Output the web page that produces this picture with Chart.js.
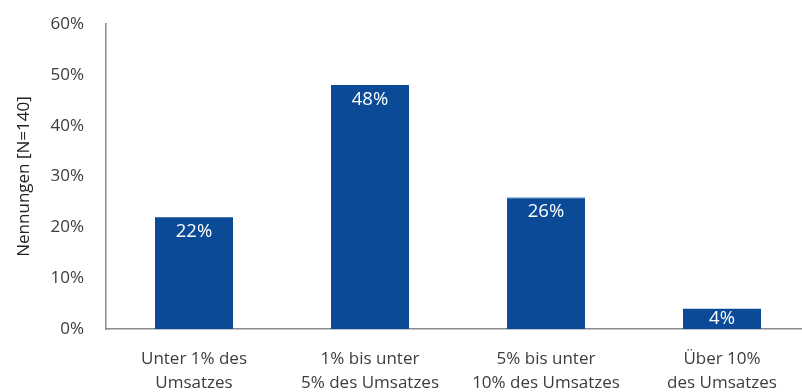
<!DOCTYPE html>
<html>
<head>
<meta charset="utf-8">
<script src="https://cdn.jsdelivr.net/npm/chart.js@4/dist/chart.umd.min.js"></script>
<style>
  html, body { margin: 0; padding: 0; background: #fff; overflow: hidden; }
  #wrap { width: 810px; height: 392px; }
</style>
</head>
<body>
<div id="wrap"><canvas id="c" width="810" height="392"></canvas></div>
<script>
// Anteil am Umsatz – Nennungen in Prozent
const categories = [
  ["Unter 1% des", "Umsatzes"],
  ["1% bis unter", "5% des Umsatzes"],
  ["5% bis unter", "10% des Umsatzes"],
  ["Über 10%", "des Umsatzes"]
];
const shares = [22, 48, 26, 4];
const yTicks = [0, 10, 20, 30, 40, 50, 60];
const axisTitle = "Nennungen [N=140]";

const FONT = "'Open Sans', 'Liberation Sans', sans-serif";
const TEXT = "#3c3c3c";
const BAR = "#0a4a96";

// white value labels inside the top of each bar
const valueLabels = {
  id: "valueLabels",
  afterDatasetsDraw(chart) {
    const ctx = chart.ctx;
    const meta = chart.getDatasetMeta(0);
    ctx.save();
    ctx.fillStyle = "#ffffff";
    ctx.font = "18.5px " + FONT;
    ctx.textAlign = "center";
    ctx.textBaseline = "middle";
    meta.data.forEach((bar, i) => {
      const h = bar.base - bar.y;
      ctx.fillText(shares[i] + "%", bar.x, bar.y + Math.min(15, h / 2));
    });
    ctx.restore();
  }
};

new Chart(document.getElementById("c"), {
  type: "bar",
  data: {
    labels: categories,
    datasets: [{
      data: shares,
      backgroundColor: BAR,
      borderColor: ["#a9c4e6", "#a9c4e6", "#a9c4e6", "#a9c4e6"],
      borderWidth: [0, 0, { top: 1.5, left: 0, right: 0, bottom: 0 }, 0],
      borderSkipped: "bottom",
      categoryPercentage: 1,
      barPercentage: 0.443
    }]
  },
  options: {
    responsive: false,
    animation: false,
    layout: { padding: { top: 24, left: 0, right: 0, bottom: 0 } },
    plugins: { legend: { display: false }, tooltip: { enabled: false } },
    scales: {
      x: {
        grid: { display: false, drawTicks: false },
        border: { display: true, color: "#8a8a8a", width: 1.5 },
        ticks: {
          color: TEXT,
          font: { family: FONT, size: 17, lineHeight: 1.41 },
          padding: 18,
          maxRotation: 0,
          autoSkip: false
        },
        afterFit(scale) { scale.height = 63; }
      },
      y: {
        min: 0,
        max: 60,
        afterBuildTicks(scale) { scale.ticks = yTicks.map(v => ({ value: v })); },
        grid: { display: false, drawTicks: false },
        border: { display: true, color: "#8a8a8a", width: 1.5 },
        ticks: {
          color: TEXT,
          font: { family: FONT, size: 17 },
          padding: 22,
          callback: v => v + "%"
        },
        title: {
          display: true,
          text: axisTitle,
          color: "#222",
          font: { family: FONT, size: 17 },
          padding: { top: 14, bottom: 0 }
        },
        afterFit(scale) {
          scale.width = 106;
          scale.paddingTop = 0;
          scale.paddingBottom = 0;
        }
      }
    }
  },
  plugins: [valueLabels]
});
</script>
</body>
</html>
